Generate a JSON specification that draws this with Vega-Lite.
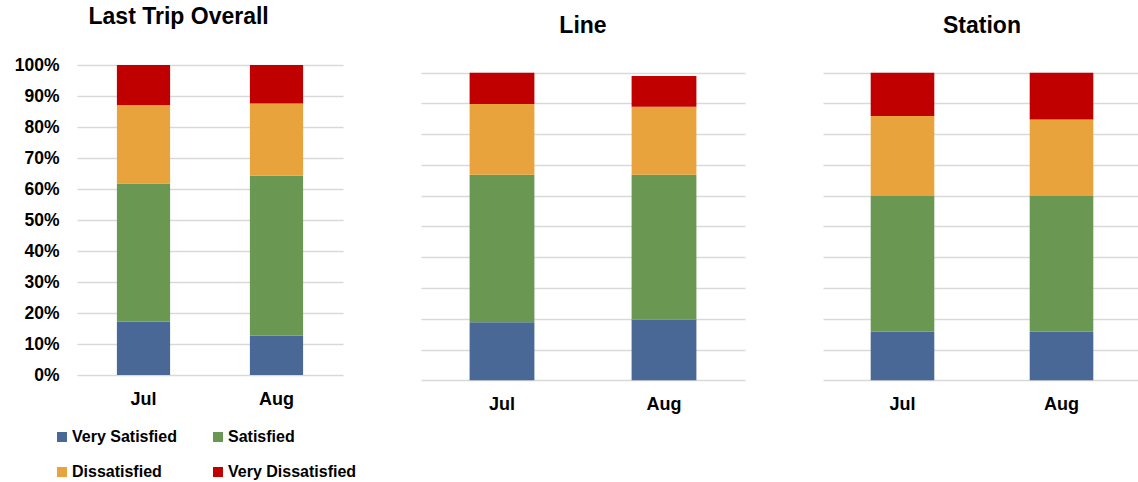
{
  "$schema": "https://vega.github.io/schema/vega-lite/v6.json",
  "padding": {"left": 14, "top": 5, "right": 0, "bottom": 0},
  "background": "white",
  "datasets": {
    "d": [
      {"panel": "Last Trip Overall", "month": "Jul", "level": "Very Satisfied", "rank": 1, "pct": 17.2},
      {"panel": "Last Trip Overall", "month": "Jul", "level": "Satisfied", "rank": 2, "pct": 44.6},
      {"panel": "Last Trip Overall", "month": "Jul", "level": "Dissatisfied", "rank": 3, "pct": 25.3},
      {"panel": "Last Trip Overall", "month": "Jul", "level": "Very Dissatisfied", "rank": 4, "pct": 12.9},
      {"panel": "Last Trip Overall", "month": "Aug", "level": "Very Satisfied", "rank": 1, "pct": 12.7},
      {"panel": "Last Trip Overall", "month": "Aug", "level": "Satisfied", "rank": 2, "pct": 51.6},
      {"panel": "Last Trip Overall", "month": "Aug", "level": "Dissatisfied", "rank": 3, "pct": 23.3},
      {"panel": "Last Trip Overall", "month": "Aug", "level": "Very Dissatisfied", "rank": 4, "pct": 12.4},
      {"panel": "Line", "month": "Jul", "level": "Very Satisfied", "rank": 1, "pct": 18.9},
      {"panel": "Line", "month": "Jul", "level": "Satisfied", "rank": 2, "pct": 47.9},
      {"panel": "Line", "month": "Jul", "level": "Dissatisfied", "rank": 3, "pct": 23.0},
      {"panel": "Line", "month": "Jul", "level": "Very Dissatisfied", "rank": 4, "pct": 10.2},
      {"panel": "Line", "month": "Aug", "level": "Very Satisfied", "rank": 1, "pct": 19.8},
      {"panel": "Line", "month": "Aug", "level": "Satisfied", "rank": 2, "pct": 47.0},
      {"panel": "Line", "month": "Aug", "level": "Dissatisfied", "rank": 3, "pct": 22.1},
      {"panel": "Line", "month": "Aug", "level": "Very Dissatisfied", "rank": 4, "pct": 10.0},
      {"panel": "Station", "month": "Jul", "level": "Very Satisfied", "rank": 1, "pct": 15.8},
      {"panel": "Station", "month": "Jul", "level": "Satisfied", "rank": 2, "pct": 44.1},
      {"panel": "Station", "month": "Jul", "level": "Dissatisfied", "rank": 3, "pct": 26.0},
      {"panel": "Station", "month": "Jul", "level": "Very Dissatisfied", "rank": 4, "pct": 14.1},
      {"panel": "Station", "month": "Aug", "level": "Very Satisfied", "rank": 1, "pct": 15.8},
      {"panel": "Station", "month": "Aug", "level": "Satisfied", "rank": 2, "pct": 44.1},
      {"panel": "Station", "month": "Aug", "level": "Dissatisfied", "rank": 3, "pct": 24.9},
      {"panel": "Station", "month": "Aug", "level": "Very Dissatisfied", "rank": 4, "pct": 15.2}
    ]
  },
  "config": {
    "font": "Liberation Sans",
    "view": {"stroke": null},
    "title": {"fontSize": 23, "fontWeight": "bold", "color": "#000000", "anchor": "middle", "font": "Liberation Sans"},
    "axis": {"gridColor": "#d9d9d9", "gridWidth": 1.5, "domain": false, "ticks": false, "labelColor": "#000000", "labelFontWeight": "bold", "labelFont": "Liberation Sans"},
    "legend": {"labelFont": "Liberation Sans"}
  },
  "spacing": 78,
  "resolve": {"scale": {"x": "independent", "y": "independent", "color": "shared"}},
  "hconcat": [
    {
      "data": {"name": "d"},
      "transform": [{"filter": "datum.panel === 'Last Trip Overall'"}],
      "title": {"text": "Last Trip Overall", "frame": "bounds", "offset": 27.5},
      "width": 266,
      "height": 310,
      "mark": {"type": "bar"},
      "encoding": {
        "x": {"field": "month", "type": "nominal", "sort": ["Jul", "Aug"], "title": null,
              "scale": {"paddingInner": 0.6, "paddingOuter": 0.3},
              "axis": {"labelAngle": 0, "labelFontSize": 18, "labelPadding": 15, "grid": false}},
        "y": {"field": "pct", "type": "quantitative", "stack": "zero", "title": null,
              "scale": {"domain": [0, 100], "nice": false},
              "axis": {"values": [0, 10, 20, 30, 40, 50, 60, 70, 80, 90, 100], "labelExpr": "datum.value + '%'", "labelFontSize": 17.5, "labelPadding": 18, "grid": true}},
        "order": {"field": "rank", "type": "quantitative"},
        "color": {"field": "level", "type": "nominal",
                  "sort": ["Very Satisfied", "Satisfied", "Dissatisfied", "Very Dissatisfied"],
                  "scale": {"domain": ["Very Satisfied", "Satisfied", "Dissatisfied", "Very Dissatisfied"], "range": ["#4A6896", "#6A9751", "#E8A33D", "#C00000"]},
                  "legend": {"title": null, "orient": "none", "direction": "horizontal", "legendX": -23, "legendY": 364, "columns": 2, "columnPadding": 33, "rowPadding": 19,
                             "symbolType": "square", "symbolSize": 100, "symbolStrokeWidth": 0, "labelFontSize": 16, "labelFontWeight": "bold", "labelColor": "#000000", "labelOffset": 2, "padding": 0}}
      }
    },
    {
      "data": {"name": "d"},
      "transform": [{"filter": "datum.panel === 'Line'"}],
      "title": {"text": "Line", "offset": 27},
      "width": 324,
      "height": 315.3,
      "mark": {"type": "bar"},
      "encoding": {
        "x": {"field": "month", "type": "nominal", "sort": ["Jul", "Aug"], "title": null,
              "scale": {"paddingInner": 0.6, "paddingOuter": 0.3},
              "axis": {"labelAngle": 0, "labelFontSize": 18, "labelPadding": 15, "grid": false}},
        "y": {"field": "pct", "type": "quantitative", "stack": "zero", "title": null,
              "scale": {"domain": [0, 102.5], "nice": false},
              "axis": {"values": [0, 10, 20, 30, 40, 50, 60, 70, 80, 90, 100], "labels": false, "grid": true}},
        "order": {"field": "rank", "type": "quantitative"},
        "color": {"field": "level", "type": "nominal",
                  "sort": ["Very Satisfied", "Satisfied", "Dissatisfied", "Very Dissatisfied"]}
      }
    },
    {
      "data": {"name": "d"},
      "transform": [{"filter": "datum.panel === 'Station'"}],
      "title": {"text": "Station", "offset": 27},
      "width": 318,
      "height": 315.3,
      "mark": {"type": "bar"},
      "encoding": {
        "x": {"field": "month", "type": "nominal", "sort": ["Jul", "Aug"], "title": null,
              "scale": {"paddingInner": 0.6, "paddingOuter": 0.3},
              "axis": {"labelAngle": 0, "labelFontSize": 18, "labelPadding": 15, "grid": false}},
        "y": {"field": "pct", "type": "quantitative", "stack": "zero", "title": null,
              "scale": {"domain": [0, 102.5], "nice": false},
              "axis": {"values": [0, 10, 20, 30, 40, 50, 60, 70, 80, 90, 100], "labels": false, "grid": true}},
        "order": {"field": "rank", "type": "quantitative"},
        "color": {"field": "level", "type": "nominal",
                  "sort": ["Very Satisfied", "Satisfied", "Dissatisfied", "Very Dissatisfied"]}
      }
    }
  ]
}
